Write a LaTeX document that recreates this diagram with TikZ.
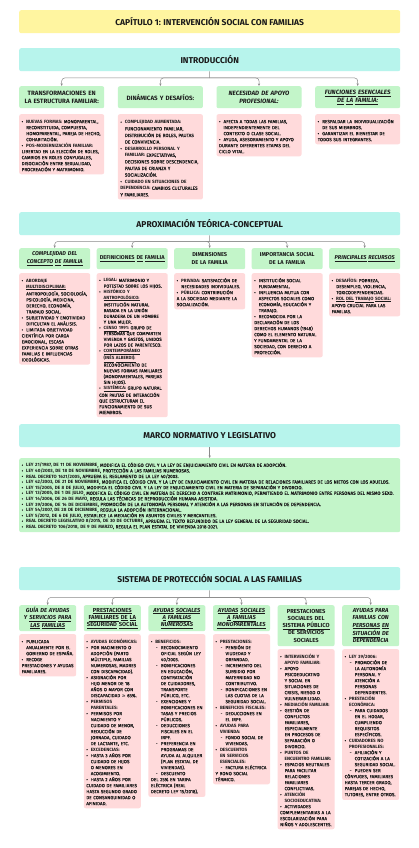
\documentclass[tikz,border=0pt]{standalone}
\usepackage{fontspec}
\setmainfont{Fira Sans}[UprightFeatures={FakeBold=0.4}]
\newfontfamily\dv{DejaVu Sans}
\usetikzlibrary{arrows.meta}
\definecolor{ttlc}{HTML}{FFF5A0}
\definecolor{cyanc}{HTML}{B7F4EC}
\definecolor{greenc}{HTML}{C3F5C9}
\definecolor{pinkc}{HTML}{FFDADB}
\definecolor{inkc}{HTML}{1A1A1A}
\definecolor{connc}{HTML}{8A8A8A}
\hyphenpenalty=10000
\exhyphenpenalty=10000
\newcommand\bul{\par\noindent\hangindent=4.5pt\hangafter=1\makebox[4.5pt][l]{•}}
\newcommand\sbul{\par\noindent\hangindent=10pt\hangafter=1\hspace*{5pt}\makebox[5pt][l]{-}}
\def\ulw#1{\ulwA#1 \relax}
\def\ulwA#1 #2\relax{\underline{#1}\ifx\relax#2\relax\else\ \ulwA#2\relax\fi}
\tikzset{
  secbox/.style={fill=cyanc, rounded corners=2pt, minimum width=381pt, minimum height=23pt,
    inner sep=0pt, font=\fontsize{8.5}{9}\selectfont\bfseries, text=inkc, anchor=north west},
  colhead/.style={fill=greenc, rounded corners=2pt, inner xsep=2pt, inner ysep=0pt, align=center,
    text=inkc, font=\fontsize{5.6}{7.4}\selectfont\bfseries, anchor=north west},
  bodybox/.style={fill=pinkc, rounded corners=2pt, inner xsep=2.5pt, inner ysep=3pt, align=left,
    text=inkc, font=\fontsize{4.6}{6}\selectfont, anchor=north west},
  link/.style={draw=connc, line width=0.5pt, rounded corners=3pt, -{Stealth[length=2.6pt,width=2.2pt]}},
  trunk/.style={draw=connc, line width=0.5pt}
}
\begin{document}
\begin{tikzpicture}[x=1pt,y=-1pt]
\useasboundingbox[fill=white] (0,0) rectangle (419,848);

% ---------- title ----------
\node[secbox, fill=ttlc] (title) at (19,10) {CAPÍTULO 1: INTERVENCIÓN SOCIAL CON FAMILIAS};

% ---------- introduccion ----------
\node[secbox] (intro) at (19,48) {INTRODUCCIÓN};
\coordinate (ij) at (209.5,78);
\tikzset{ihd/.style={colhead, text width=81pt, minimum height=22pt, font=\fontsize{6.2}{8}\selectfont\bfseries}}
\node[ihd] (ih1) at (19,86) {TRANSFORMACIONES EN LA ESTRUCTURA FAMILIAR:};
\node[ihd] (ih2) at (117.7,86) {DINÁMICAS Y DESAFÍOS:};
\node[ihd] (ih3) at (216.3,86) {\itshape NECESIDAD DE APOYO PROFESIONAL:};
\node[ihd] (ih4) at (315,86) {\itshape\ulw{FUNCIONES ESENCIALES DE LA FAMILIA:}};
\draw[trunk] (intro.south) -- (ij);
\foreach \n in {ih1,ih2,ih3,ih4} \draw[link] (ij) -| (\n.north);

\node[bodybox, text width=80pt] (ib1) at (19,114) {%
\bul \textbf{NUEVAS FORMAS:} MONOPARENTAL, RECONSTITUIDA, COMPUESTA, HOMOPARENTAL, PAREJA DE HECHO, COHABITACIÓN.
\bul \textbf{POS-MODERNIZACIÓN FAMILIAR:} LIBERTAD EN LA ELECCIÓN DE ROLES, CAMBIOS EN ROLES CONYUGALES, DISOCIACIÓN ENTRE SEXUALIDAD, PROCREACIÓN Y MATRIMONIO.};
\node[bodybox, text width=80pt, font=\fontsize{4.6}{6.6}\selectfont] (ib2) at (117.7,114) {%
\bul \textbf{COMPLEJIDAD AUMENTADA:} FUNCIONAMIENTO FAMILIAR, DISTRIBUCIÓN DE ROLES, PAUTAS DE CONVIVENCIA.
\bul \textbf{DESARROLLO PERSONAL Y FAMILIAR:} EXPECTATIVAS, DECISIONES SOBRE DESCENDENCIA, PAUTAS DE CRIANZA Y SOCIALIZACIÓN.
\bul \textbf{CUIDADO EN SITUACIONES DE DEPENDENCIA:} CAMBIOS CULTURALES Y FAMILIARES.};
\node[bodybox, text width=80pt] (ib3) at (216.3,114) {%
\bul AFECTA A TODAS LAS FAMILIAS, INDEPENDIENTEMENTE DEL CONTEXTO O CLASE SOCIAL.
\bul AYUDA, ASESORAMIENTO Y APOYO DURANTE DIFERENTES ETAPAS DEL CICLO VITAL.};
\node[bodybox, text width=80pt] (ib4) at (315,114) {%
\bul RESPALDAR LA INDIVIDUALIZACIÓN DE SUS MIEMBROS.
\bul GARANTIZAR EL BIENESTAR DE TODOS SUS INTEGRANTES.};

% ---------- aproximacion ----------
\node[secbox] (aprox) at (19,212) {APROXIMACIÓN TEÓRICA-CONCEPTUAL};
\coordinate (aj) at (209.5,241.5);
\tikzset{ahd/.style={colhead, text width=67pt, minimum height=21pt}}
\node[ahd] (ah1) at (19,248) {\itshape COMPLEJIDAD DEL \ulw{CONCEPTO DE FAMILIA}};
\node[ahd] (ah2) at (96.5,248) {\ulw{DEFINICIONES DE FAMILIA}};
\node[ahd] (ah3) at (174,248) {DIMENSIONES DE LA FAMILIA};
\node[ahd] (ah4) at (251.5,248) {IMPORTANCIA SOCIAL DE LA FAMILIA};
\node[ahd] (ah5) at (329,248) {\itshape\ulw{PRINCIPALES RECURSOS}};
\draw[trunk] (aprox.south) -- (aj);
\foreach \n in {ah1,ah2,ah3,ah4,ah5} \draw[link] (aj) -| (\n.north);

\node[bodybox, text width=66pt] (ab1) at (19,273) {%
\bul \textbf{ABORDAJE \ulw{MULTIDISCIPLINAR:}} ANTROPOLOGÍA, SOCIOLOGÍA, PSICOLOGÍA, MEDICINA, DERECHO, ECONOMÍA, TRABAJO SOCIAL.
\bul SUBJETIVIDAD Y EMOTIVIDAD DIFICULTAN EL ANÁLISIS.
\bul LIMITADA OBJETIVIDAD CIENTÍFICA POR CARGA EMOCIONAL, ESCASA EXPERIENCIA SOBRE OTRAS FAMILIAS E INFLUENCIAS IDEOLÓGICAS.};
\node[bodybox, text width=66pt, font=\fontsize{4.5}{5.75}\selectfont] (ab2) at (96.5,273) {%
\bul \textbf{LEGAL:} MATRIMONIO Y POTESTAD SOBRE LOS HIJOS.
\bul \textbf{HISTÓRICO Y \ulw{ANTROPOLÓGICO:}} INSTITUCIÓN NATURAL BASADA EN LA UNIÓN DURADERA DE UN HOMBRE Y UNA MUJER.
\bul \textbf{\ulw{CENSO 1991:}} GRUPO DE PERSONAS QUE COMPARTEN VIVIENDA Y GASTOS, UNIDOS POR LAZOS DE PARENTESCO.
\bul \textbf{\ulw{CONTEMPORÁNEO (INÉS ALBERDI):}} RECONOCIMIENTO DE NUEVAS FORMAS FAMILIARES (MONOPARENTALES, PAREJAS SIN HIJOS).
\bul \textbf{\ulw{SISTÉMICA:}} GRUPO NATURAL CON PAUTAS DE INTERACCIÓN QUE ESTRUCTURAN EL FUNCIONAMIENTO DE SUS MIEMBROS.};
\node[bodybox, text width=66pt] (ab3) at (174,273) {%
\bul \textbf{PRIVADA:} SATISFACCIÓN DE NECESIDADES INDIVIDUALES.
\bul \textbf{PÚBLICA:} CONTRIBUCIÓN A LA SOCIEDAD MEDIANTE LA SOCIALIZACIÓN.};
\node[bodybox, text width=66pt] (ab4) at (251.5,273) {%
\bul INSTITUCIÓN SOCIAL FUNDAMENTAL.
\bul INFLUENCIA MUTUA CON ASPECTOS SOCIALES COMO ECONOMÍA, EDUCACIÓN Y TRABAJO.
\bul RECONOCIDA POR LA DECLARACIÓN DE LOS DERECHOS HUMANOS (1948) COMO EL ELEMENTO NATURAL Y FUNDAMENTAL DE LA SOCIEDAD, CON DERECHO A PROTECCIÓN.};
\node[bodybox, text width=66pt] (ab5) at (329,273) {%
\bul \textbf{DESAFÍOS:} POBREZA, DESEMPLEO, VIOLENCIA, TOXICODEPENDENCIAS.
\bul \textbf{\ulw{ROL DEL TRABAJO SOCIAL:}} APOYO CRUCIAL PARA LAS FAMILIAS.};

% ---------- marco normativo ----------
\node[secbox] (marco) at (19,424) {MARCO NORMATIVO Y LEGISLATIVO};
\node[bodybox, fill=greenc, text width=376pt, font=\fontsize{4.6}{5.6}\selectfont] (mlist) at (19,458) {%
\bul \textbf{LEY 21/1987, DE 11 DE NOVIEMBRE}, MODIFICA EL CÓDIGO CIVIL Y LA LEY DE ENJUICIAMIENTO CIVIL EN MATERIA DE ADOPCIÓN.
\bul \textbf{LEY 40/2003, DE 18 DE NOVIEMBRE}, PROTECCIÓN A LAS FAMILIAS NUMEROSAS.
\bul \textbf{REAL DECRETO 1621/2005}, APRUEBA EL REGLAMENTO DE LA LEY 40/2003.
\bul \textbf{LEY 42/2003, DE 21 DE NOVIEMBRE}, MODIFICA EL CÓDIGO CIVIL Y LA LEY DE ENJUICIAMIENTO CIVIL EN MATERIA DE RELACIONES FAMILIARES DE LOS NIETOS CON LOS ABUELOS.
\bul \textbf{LEY 15/2005, DE 8 DE JULIO}, MODIFICA EL CÓDIGO CIVIL Y LA LEY DE ENJUICIAMIENTO CIVIL EN MATERIA DE SEPARACIÓN Y DIVORCIO.
\bul \textbf{LEY 13/2005, DE 1 DE JULIO}, MODIFICA EL CÓDIGO CIVIL EN MATERIA DE DERECHO A CONTRAER MATRIMONIO, PERMITIENDO EL MATRIMONIO ENTRE PERSONAS DEL MISMO SEXO.
\bul \textbf{LEY 14/2006, DE 26 DE MAYO}, REGULA LAS TÉCNICAS DE REPRODUCCIÓN HUMANA ASISTIDA.
\bul \textbf{LEY 39/2006, DE 14 DE DICIEMBRE}, PROMOCIÓN DE LA AUTONOMÍA PERSONAL Y ATENCIÓN A LAS PERSONAS EN SITUACIÓN DE DEPENDENCIA.
\bul \textbf{LEY 54/2007, DE 28 DE DICIEMBRE}, REGULA LA ADOPCIÓN INTERNACIONAL.
\bul \textbf{LEY 5/2012, DE 6 DE JULIO}, ESTABLECE LA MEDIACIÓN EN ASUNTOS CIVILES Y MERCANTILES.
\bul \textbf{REAL DECRETO LEGISLATIVO 8/2015, DE 30 DE OCTUBRE}, APRUEBA EL TEXTO REFUNDIDO DE LA LEY GENERAL DE LA SEGURIDAD SOCIAL.
\bul \textbf{REAL DECRETO 106/2018, DE 9 DE MARZO}, REGULA EL PLAN ESTATAL DE VIVIENDA 2018-2021.};
\draw[link] (marco.south) -- (mlist.north);

% ---------- sistema de proteccion ----------
\node[secbox] (sist) at (19,567) {SISTEMA DE PROTECCIÓN SOCIAL A LAS FAMILIAS};
\coordinate (sj) at (209.5,597.5);
\tikzset{shd/.style={colhead, text width=53pt, minimum height=26pt, font=\fontsize{5.8}{7.2}\selectfont\bfseries}}
\node[shd] (sh1) at (19,605) {\itshape GUÍA DE AYUDAS Y \ulw{SERVICIOS PARA LAS FAMILIAS}};
\node[shd] (sh2) at (83.6,605) {\ulw{PRESTACIONES FAMILIARES DE LA SEGURIDAD SOCIAL}};
\node[shd] (sh3) at (148.2,605) {\itshape\ulw{AYUDAS SOCIALES A FAMILIAS NUMEROSAS}};
\node[shd] (sh4) at (212.8,605) {\itshape\ulw{AYUDAS SOCIALES A FAMILIAS MONOPARENTALES}};
\node[shd, minimum height=41pt] (sh5) at (277.4,605) {PRESTACIONES SOCIALES DEL \ulw{SISTEMA PÚBLICO} DE SERVICIOS SOCIALES};
\node[shd, minimum height=41pt] (sh6) at (342,605) {\itshape AYUDAS PARA FAMILIAS CON \ulw{PERSONAS EN SITUACIÓN} DE DEPENDENCIA};
\draw[trunk] (sist.south) -- (sj);
\foreach \n in {sh1,sh2,sh3,sh4,sh5,sh6} \draw[link] (sj) -| (\n.north);

\node[bodybox, text width=52pt] (sb1) at (19,634) {%
\bul PUBLICADA ANUALMENTE POR EL GOBIERNO DE ESPAÑA.
\bul RECOGE PRESTACIONES Y AYUDAS FAMILIARES.};
\node[bodybox, text width=52pt] (sb2) at (83.6,634) {%
\bul \textbf{AYUDAS ECONÓMICAS:}
\bul POR NACIMIENTO O ADOPCIÓN (PARTO MÚLTIPLE, FAMILIAS NUMEROSAS, MADRES CON DISCAPACIDAD).
\bul ASIGNACIÓN POR HIJO MENOR DE 18 AÑOS O MAYOR CON DISCAPACIDAD {\dv ≥} 65\%.
\bul \textbf{PERMISOS PARENTALES:}
\bul PERMISOS POR NACIMIENTO Y CUIDADO DE MENOR, REDUCCIÓN DE JORNADA, CUIDADO DE LACTANTE, ETC.
\bul \textbf{EXCEDENCIAS:}
\bul HASTA 3 AÑOS POR CUIDADO DE HIJOS O MENORES EN ACOGIMIENTO.
\bul HASTA 2 AÑOS POR CUIDADO DE FAMILIARES HASTA SEGUNDO GRADO DE CONSANGUINIDAD O AFINIDAD.};
\node[bodybox, text width=52pt] (sb3) at (148.2,634) {%
\bul \textbf{BENEFICIOS:}
\sbul RECONOCIMIENTO OFICIAL SEGÚN LEY 40/2003.
\sbul BONIFICACIONES EN EDUCACIÓN, CONTRATACIÓN DE CUIDADORES, TRANSPORTE PÚBLICO, ETC.
\sbul EXENCIONES Y BONIFICACIONES EN TASAS Y PRECIOS PÚBLICOS.
\sbul DEDUCCIONES FISCALES EN EL IRPF.
\sbul PREFERENCIA EN PROGRAMAS DE AYUDA AL ALQUILER (PLAN ESTATAL DE VIVIENDAS).
\sbul DESCUENTO DEL 25\% EN TARIFA ELÉCTRICA (REAL DECRETO LEY 15/2018).};
\node[bodybox, text width=52pt] (sb4) at (212.8,634) {%
\bul \textbf{PRESTACIONES:}
\sbul PENSIÓN DE VIUDEDAD Y ORFANDAD.
\sbul INCREMENTO DEL SUBSIDIO POR MATERNIDAD NO CONTRIBUTIVO.
\sbul BONIFICACIONES EN LAS CUOTAS DE LA SEGURIDAD SOCIAL.
\bul \textbf{BENEFICIOS FISCALES:}
\sbul DEDUCCIONES EN EL IRPF.
\bul \textbf{AYUDAS PARA VIVIENDA:}
\sbul FONDO SOCIAL DE VIVIENDAS.
\bul \textbf{DESCUENTOS EN SERVICIOS ESENCIALES:}
\sbul FACTURA ELÉCTRICA Y BONO SOCIAL TÉRMICO.};
\node[bodybox, text width=52pt] (sb5) at (277.4,649) {%
\bul \textbf{INTERVENCIÓN Y APOYO FAMILIAR:}
\bul APOYO PSICOEDUCATIVO Y SOCIAL EN SITUACIONES DE CRISIS, RIESGO O VULNERABILIDAD.
\bul \textbf{MEDIACIÓN FAMILIAR:}
\bul GESTIÓN DE CONFLICTOS FAMILIARES, ESPECIALMENTE EN PROCESOS DE SEPARACIÓN O DIVORCIO.
\bul \textbf{PUNTOS DE ENCUENTRO FAMILIAR:}
\bul ESPACIOS NEUTRALES PARA FACILITAR RELACIONES FAMILIARES CONFLICTIVAS.
\bul \textbf{ATENCIÓN SOCIOEDUCATIVA:}
\bul ACTIVIDADES COMPLEMENTARIAS A LA ESCOLARIZACIÓN PARA NIÑOS Y ADOLESCENTES.};
\node[bodybox, text width=52pt] (sb6) at (342,649) {%
\bul \textbf{LEY 39/2006:}
\sbul PROMOCIÓN DE LA AUTONOMÍA PERSONAL Y ATENCIÓN A PERSONAS DEPENDIENTES.
\bul \textbf{PRESTACIÓN ECONÓMICA:}
\sbul PARA CUIDADOS EN EL HOGAR, CUMPLIENDO REQUISITOS ESPECÍFICOS.
\bul \textbf{CUIDADORES NO PROFESIONALES:}
\sbul AFILIACIÓN Y COTIZACIÓN A LA SEGURIDAD SOCIAL.
\sbul PUEDEN SER CÓNYUGES, FAMILIARES HASTA TERCER GRADO, PAREJAS DE HECHO, TUTORES, ENTRE OTROS.};
\end{tikzpicture}
\end{document}
